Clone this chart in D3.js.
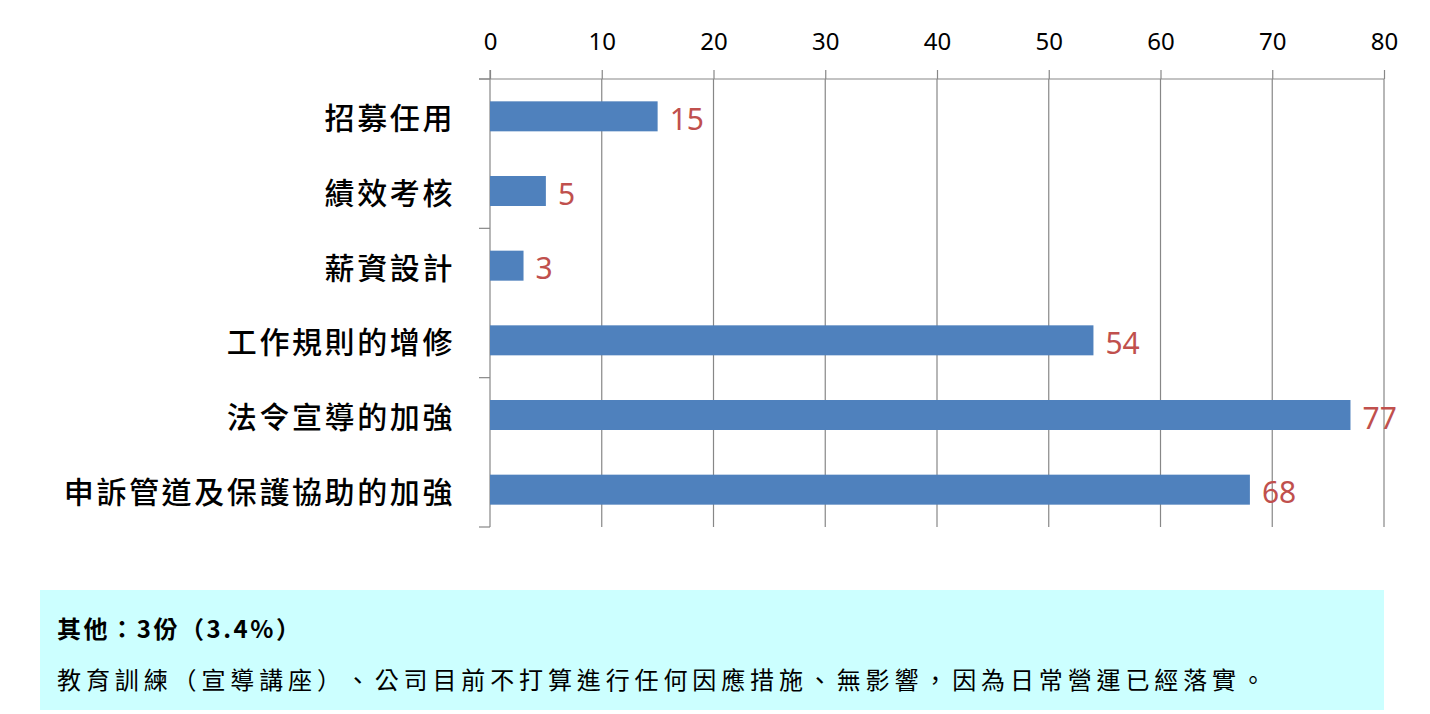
<!DOCTYPE html>
<html>
<head>
<meta charset="utf-8">
<script src="https://cdn.jsdelivr.net/npm/d3@7"></script>
<style>
  body { margin: 0; background: #fff; }
  svg { display: block; font-family: "Noto Sans CJK TC", "Noto Sans", sans-serif; text-spacing-trim: space-all; }
</style>
</head>
<body>
<div id="chart"></div>
<script>
const CATEGORIES = ['招募任用', '績效考核', '薪資設計', '工作規則的增修', '法令宣導的加強', '申訴管道及保護協助的加強'];
const VALUES = [15, 5, 3, 54, 77, 68];
const X_TICKS = [0, 10, 20, 30, 40, 50, 60, 70, 80];
const NOTE_TITLE = '其他：3份（3.4%）';
const NOTE_TEXT = '教育訓練（宣導講座）、公司目前不打算進行任何因應措施、無影響，因為日常營運已經落實。';

const W = 1430, H = 714;
const m = { top: 79, left: 490, right: 46, bottom: 187 };
const iw = W - m.left - m.right;
const ih = H - m.top - m.bottom;

const svg = d3.select('#chart').append('svg')
  .attr('width', W).attr('height', H);

const g = svg.append('g').attr('transform', `translate(${m.left},${m.top})`);

const x = d3.scaleLinear().domain([0, 80]).range([0, iw]);
const band = d3.scaleBand().domain(CATEGORIES).range([0, ih]);

// vertical gridlines
g.selectAll('.grid')
  .data(X_TICKS.slice(1))
  .join('line')
  .attr('x1', d => x(d)).attr('x2', d => x(d))
  .attr('y1', 0).attr('y2', ih)
  .attr('stroke', '#878787').attr('stroke-width', 1.2);

// top axis
const xAxis = g.append('g')
  .call(d3.axisTop(x).tickValues(X_TICKS).tickSize(9).tickPadding(20).tickSizeOuter(0));
xAxis.select('.domain').attr('stroke', '#878787').attr('stroke-width', 1.2)
  .attr('d', `M${-11},0H${iw}`);
xAxis.selectAll('.tick line').attr('stroke', '#878787').attr('stroke-width', 1.2);
xAxis.selectAll('.tick text')
  .attr('font-size', 24).attr('fill', '#000')
  .attr('font-family', '"Noto Sans", sans-serif');

// left axis (ticks every other category boundary)
const yTicks = [0, 2, 4, 6].map(i => i * band.step());
const yAxis = g.append('g');
yAxis.append('line')
  .attr('x1', 0).attr('x2', 0).attr('y1', -9).attr('y2', ih)
  .attr('stroke', '#878787').attr('stroke-width', 1.2);
yAxis.selectAll('.ytick')
  .data(yTicks)
  .join('line')
  .attr('x1', -11).attr('x2', 0)
  .attr('y1', d => d).attr('y2', d => d)
  .attr('stroke', '#878787').attr('stroke-width', 1.2);

// category labels
g.selectAll('.cat')
  .data(CATEGORIES)
  .join('text')
  .attr('x', -35)
  .attr('y', d => band(d) + band.bandwidth() / 2)
  .attr('text-anchor', 'end')
  .attr('dominant-baseline', 'central')
  .attr('font-size', 30)
  .attr('font-weight', 500)
  .attr('letter-spacing', 2.6)
  .attr('fill', '#000')
  .text(d => d);

// bars
g.selectAll('.bar')
  .data(VALUES)
  .join('rect')
  .attr('x', 0)
  .attr('y', (d, i) => band(CATEGORIES[i]) + band.bandwidth() / 2 - 15)
  .attr('width', d => x(d))
  .attr('height', 30)
  .attr('fill', '#4F81BD');

// value labels
g.selectAll('.val')
  .data(VALUES)
  .join('text')
  .attr('x', d => x(d) + 12)
  .attr('y', (d, i) => band(CATEGORIES[i]) + band.bandwidth() / 2 + 2)
  .attr('dominant-baseline', 'central')
  .attr('font-size', 30)
  .attr('font-family', '"Noto Sans", sans-serif')
  .attr('fill', '#C0504D')
  .text(d => d);

// note box
const note = svg.append('g');
note.append('rect')
  .attr('x', 40).attr('y', 590)
  .attr('width', 1344).attr('height', 120)
  .attr('fill', '#CCFFFF');
note.append('text')
  .attr('x', 57).attr('y', 627)
  .attr('dominant-baseline', 'central')
  .attr('font-size', 24).attr('font-weight', 700)
  .attr('textLength', 243).attr('lengthAdjust', 'spacing')
  .attr('fill', '#000')
  .text(NOTE_TITLE);
note.append('text')
  .attr('x', 57).attr('y', 678)
  .attr('dominant-baseline', 'central')
  .attr('font-size', 24)
  .attr('textLength', 1208).attr('lengthAdjust', 'spacing')
  .attr('fill', '#000')
  .text(NOTE_TEXT);
</script>
</body>
</html>
